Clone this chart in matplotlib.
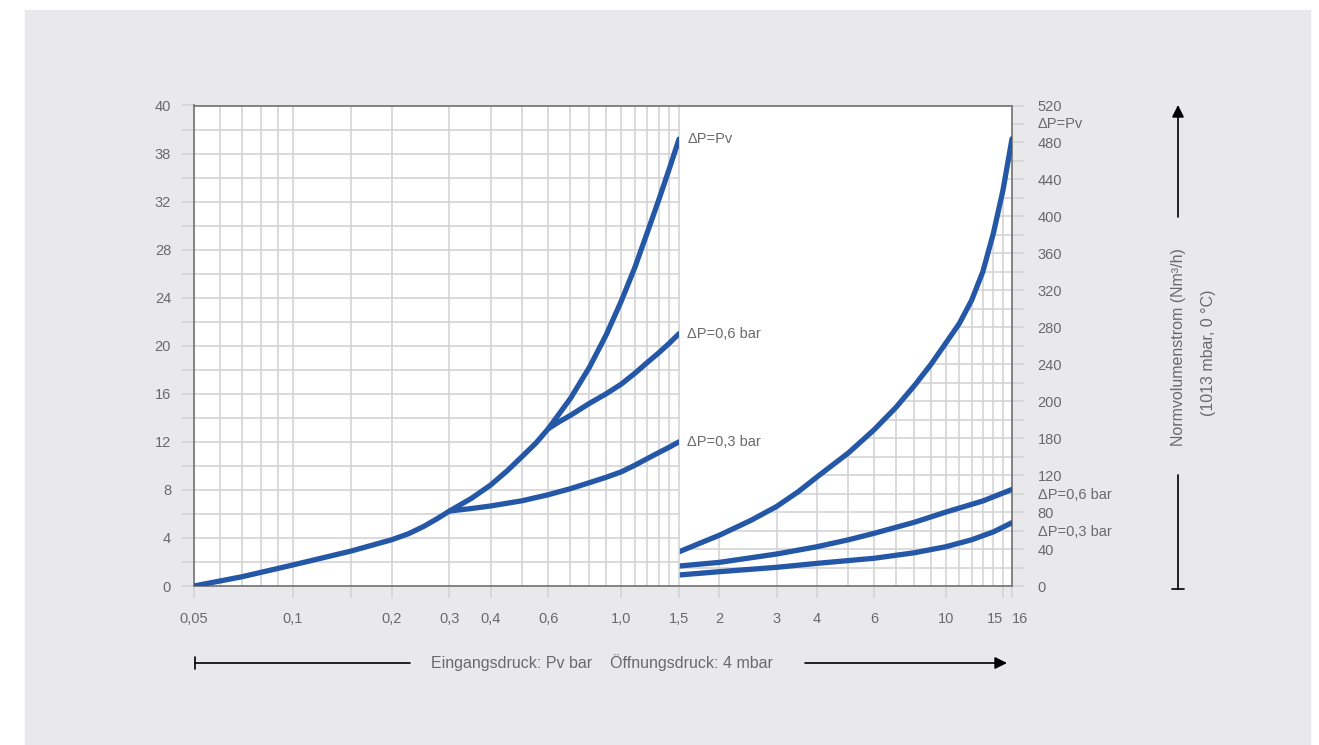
import numpy as np
import matplotlib.pyplot as plt
from matplotlib.patches import Rectangle

plt.rcParams['font.family'] = ['Liberation Sans', 'DejaVu Sans']

# Left part: Eingangsdruck 0,05 .. 1,5 bar, flow on left scale
pv_l_x = [0.05, 0.07, 0.1, 0.15, 0.2, 0.225, 0.25, 0.275, 0.3, 0.35, 0.4, 0.45, 0.5, 0.55,
          0.6, 0.7, 0.8, 0.9, 1.0, 1.1, 1.2, 1.3, 1.4, 1.5]
pv_l_y = [0, 0.77, 1.75, 2.9, 3.85, 4.35, 4.95, 5.6, 6.24, 7.3, 8.4, 9.6, 10.8, 11.9,
          13.1, 15.6, 18.2, 20.9, 23.7, 26.5, 29.4, 32.1, 34.7, 37.2]
p06_l_x = [0.6, 0.65, 0.7, 0.8, 0.9, 1.0, 1.1, 1.2, 1.3, 1.4, 1.5]
p06_l_y = [13.1, 13.7, 14.2, 15.2, 16.0, 16.8, 17.7, 18.6, 19.4, 20.2, 21.0]
p03_l_x = [0.3, 0.35, 0.4, 0.5, 0.6, 0.7, 0.8, 0.9, 1.0, 1.1, 1.2, 1.3, 1.4, 1.5]
p03_l_y = [6.24, 6.45, 6.66, 7.1, 7.6, 8.1, 8.6, 9.05, 9.5, 10.05, 10.6, 11.1, 11.55, 12.0]

# Right part: 1,5 .. 16 bar, flow on right scale
pv_r_x = [1.5, 2, 2.5, 3, 3.5, 4, 5, 6, 7, 8, 9, 10, 11, 12, 13, 14, 15, 16]
pv_r_y = [37, 55, 71, 86, 102, 118, 144, 169, 193, 217, 240, 263, 284, 309, 340, 381, 428, 484]
p06_r_x = [1.5, 2, 3, 4, 5, 6, 8, 10, 13, 16]
p06_r_y = [21.6, 25.6, 34.6, 42.5, 50, 57, 69, 80, 92, 104.5]
p03_r_x = [1.5, 2, 3, 4, 6, 8, 10, 12, 14, 16]
p03_r_y = [11.9, 15.5, 20.2, 24.5, 30, 36, 42.5, 50, 58.5, 68.5]

left_xticks = [0.05, 0.1, 0.15, 0.2, 0.3, 0.4, 0.6, 1.0, 1.5]
left_xlabels = ['0,05', '0,1', '', '0,2', '0,3', '0,4', '0,6', '1,0', '1,5']
right_xticks = [2, 3, 4, 6, 10, 15, 16]
right_xlabels = ['2', '3', '4', '6', '10', '15', '16']
left_ylabels = ['0', '4', '8', '12', '16', '20', '24', '28', '32', '38', '40']
right_ylabels = ['0', '40', '80', '120', '180', '200', '240', '280', '320',
                 '360', '400', '440', '480', '520']

W, H = 1319, 745
blue = '#2557a7'
grid_c = '#d4d4d4'
txt_c = '#6a6a6a'
spine_c = '#7a7a7a'
fs = 10.5

fig = plt.figure(figsize=(W / 100, H / 100), dpi=100, facecolor='white')
fig.patches.append(Rectangle((25 / W, 0), (1310 - 25) / W, (H - 10) / H,
                             transform=fig.transFigure, color='#e9e9eb', zorder=-5))

bot = (H - 586) / H
hgt = (586 - 105.5) / H
ax_l = fig.add_axes([194 / W, bot, (679 - 194) / W, hgt])
ax_r = fig.add_axes([679 / W, bot, (1012 - 679) / W, hgt])
ax_r.set_zorder(1)
ax_l.set_zorder(3)

# ---- left panel
ax_l.set_xscale('log')
ax_l.set_xlim(0.05, 1.5)
ax_l.set_ylim(0, 40)
for gx in [0.06, 0.07, 0.08, 0.09, 0.1, 0.15, 0.2, 0.3, 0.4, 0.5, 0.6, 0.7,
           0.8, 0.9, 1.0, 1.1, 1.2, 1.3, 1.4]:
    ax_l.axvline(gx, color=grid_c, lw=1.2, zorder=1)
for gy in np.arange(2, 40, 2):
    ax_l.axhline(gy, color=grid_c, lw=1.2, zorder=1)

ax_l.plot(pv_l_x, pv_l_y, color=blue, lw=3.8, solid_capstyle='round', solid_joinstyle='round', zorder=4)
ax_l.plot(p06_l_x, p06_l_y, color=blue, lw=3.8, solid_capstyle='round', solid_joinstyle='round', zorder=4)
ax_l.plot(p03_l_x, p03_l_y, color=blue, lw=3.8, solid_capstyle='round', solid_joinstyle='round', zorder=4)

ax_l.set_xticks(left_xticks)
ax_l.set_xticklabels(left_xlabels)
ax_l.xaxis.set_minor_locator(plt.NullLocator())
ax_l.set_yticks(np.arange(0, 41, 2))
ax_l.set_yticklabels([left_ylabels[i // 2] if i % 2 == 0 else '' for i in range(21)])
ax_l.tick_params(axis='both', length=8.5, width=1.2, color=grid_c, labelcolor=txt_c,
                 labelsize=fs, pad=8)
ax_l.tick_params(axis='x', pad=10)
for s in ['left', 'bottom', 'top']:
    ax_l.spines[s].set_color(spine_c)
    ax_l.spines[s].set_linewidth(1.3)
ax_l.spines['right'].set_color(grid_c)
ax_l.spines['right'].set_linewidth(1.2)

for lbl, yv in [('ΔP=Pv', pv_l_y[-1]), ('ΔP=0,6 bar', p06_l_y[-1]), ('ΔP=0,3 bar', p03_l_y[-1])]:
    ax_l.annotate(lbl, xy=(1.5, yv), xytext=(6, 0), textcoords='offset points',
                  ha='left', va='center', color=txt_c, fontsize=fs)

# ---- right panel
ax_r.set_xscale('log')
ax_r.set_xlim(1.5, 16)
ax_r.set_ylim(0, 520)
for gx in range(2, 16):
    ax_r.axvline(gx, color=grid_c, lw=1.2, zorder=1)
for gy in np.arange(20, 520, 20):
    ax_r.axhline(gy, color=grid_c, lw=1.2, zorder=1)
# grid only below the main curve
ax_r.fill_between(pv_r_x, pv_r_y, 520, color='white', lw=0, zorder=2)

ax_r.plot(pv_r_x, pv_r_y, color=blue, lw=3.8, solid_capstyle='round', solid_joinstyle='round', zorder=4)
ax_r.plot(p06_r_x, p06_r_y, color=blue, lw=3.8, solid_capstyle='round', solid_joinstyle='round', zorder=4)
ax_r.plot(p03_r_x, p03_r_y, color=blue, lw=3.8, solid_capstyle='round', solid_joinstyle='round', zorder=4)

ax_r.set_xticks(right_xticks)
ax_r.set_xticklabels(right_xlabels)
ax_r.xaxis.set_minor_locator(plt.NullLocator())
ax_r.yaxis.tick_right()
ax_r.set_yticks(np.arange(0, 521, 20))
ax_r.set_yticklabels([right_ylabels[i // 2] if i % 2 == 0 else '' for i in range(27)])
ax_r.tick_params(axis='both', length=8.5, width=1.2, color=grid_c, labelcolor=txt_c,
                 labelsize=fs, pad=10)
xl = ax_r.get_xticklabels()
xl[-2].set_ha('right')
xl[-1].set_ha('left')
ax_r.spines['left'].set_visible(False)
for s in ['right', 'bottom', 'top']:
    ax_r.spines[s].set_color(spine_c)
    ax_r.spines[s].set_linewidth(1.3)

tr = ax_r.get_yaxis_transform()
for lbl, yv in [('ΔP=Pv', 500), ('ΔP=0,6 bar', 98), ('ΔP=0,3 bar', 58)]:
    ax_r.annotate(lbl, xy=(1, yv), xycoords=tr, xytext=(18.5, 0), textcoords='offset points',
                  ha='left', va='center', color=txt_c, fontsize=fs)

# ---- axis titles with arrows
bar_style = '|-|,widthA=0.4,widthB=0'
fig.text(602 / W, (H - 663) / H, 'Eingangsdruck: Pv bar    Öffnungsdruck: 4 mbar',
         ha='center', va='center', color=txt_c, fontsize=11.5)
ax_l.annotate('', xy=(410, H - 663), xytext=(195, H - 663), xycoords='figure pixels',
              textcoords='figure pixels',
              arrowprops=dict(arrowstyle=bar_style, color='black', lw=1.2, mutation_scale=10,
                              shrinkA=0, shrinkB=0))
ax_l.annotate('', xy=(1007, H - 663), xytext=(805, H - 663), xycoords='figure pixels',
              textcoords='figure pixels',
              arrowprops=dict(arrowstyle='-|>', color='black', lw=1.2, mutation_scale=18,
                              shrinkA=0, shrinkB=0))

fig.text(1178 / W, (H - 347) / H, 'Normvolumenstrom (Nm³/h)', rotation=90,
         ha='center', va='center', color=txt_c, fontsize=11.5)
fig.text(1208 / W, (H - 353) / H, '(1013 mbar, 0 °C)', rotation=90,
         ha='center', va='center', color=txt_c, fontsize=11.5)
ax_l.annotate('', xy=(1178, H - 105), xytext=(1178, H - 217), xycoords='figure pixels',
              textcoords='figure pixels',
              arrowprops=dict(arrowstyle='-|>', color='black', lw=1.2, mutation_scale=18,
                              shrinkA=0, shrinkB=0))
ax_l.annotate('', xy=(1178, H - 475), xytext=(1178, H - 589), xycoords='figure pixels',
              textcoords='figure pixels',
              arrowprops=dict(arrowstyle=bar_style, color='black', lw=1.2, mutation_scale=10,
                              shrinkA=0, shrinkB=0))

plt.savefig('out.png', dpi=100, facecolor='white')
